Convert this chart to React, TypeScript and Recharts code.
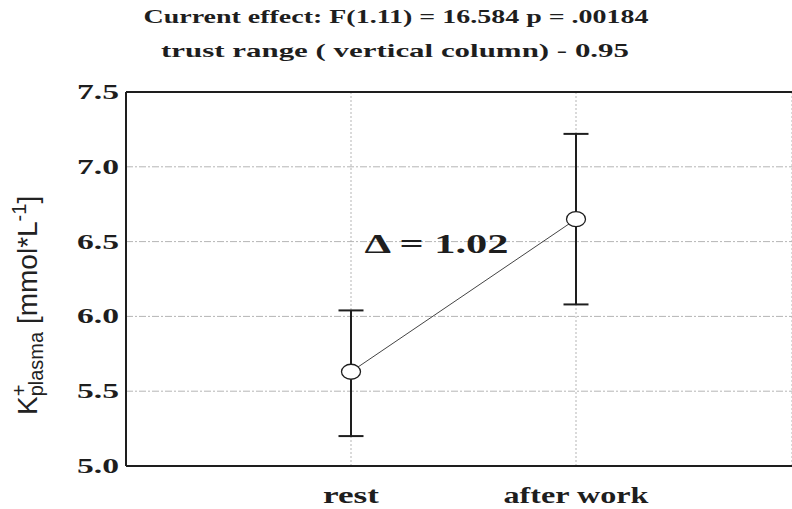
import { LineChart, Line, XAxis, YAxis, CartesianGrid, ErrorBar, ReferenceLine, ReferenceDot } from "recharts";

const categories = ["rest", "after work"];
const means = [5.63, 6.65];
const lowerErr = [0.43, 0.57];
const upperErr = [0.41, 0.57];
const yTicks = [5.0, 5.5, 6.0, 6.5, 7.0, 7.5];
const titleLines = ["Current effect: F(1.11) = 16.584  p = .00184", "trust  range ( vertical column) - 0.95"];
const deltaText = "\u0394 = 1.02";
const deltaPos = { x: 1.38, y: 6.49 };

const data = categories.map((name, i) => ({
  x: i + 1,
  name,
  mean: means[i],
  err: [lowerErr[i], upperErr[i]],
}));

const serif = "'Liberation Serif', 'Times New Roman', serif";
const ink = "#1e1e1e";

function YTick({ x, y, payload }: any) {
  return (
    <text x={x + 1} y={y + 7} textAnchor="end" fontFamily={serif} fontWeight="bold" fontSize={21}
      fill={ink} textLength={42} lengthAdjust="spacingAndGlyphs">
      {Number(payload.value).toFixed(1)}
    </text>
  );
}

function XTick({ x, y, payload }: any) {
  const label = categories[payload.value - 1] ?? "";
  const len = label === "rest" ? 56 : 145;
  return (
    <text x={x} y={y + 29} textAnchor="middle" fontFamily={serif} fontWeight="bold" fontSize={23}
      fill={ink} textLength={len} lengthAdjust="spacingAndGlyphs">
      {label}
    </text>
  );
}

function OpenDot({ cx, cy }: any) {
  return <ellipse cx={cx} cy={cy} rx={9.5} ry={7.5} fill="#fff" stroke={ink} strokeWidth={1.3} />;
}

function DeltaLabel({ viewBox }: any) {
  return (
    <text x={viewBox.x} y={viewBox.y + 10} textAnchor="middle" fontFamily={serif} fontWeight="bold"
      fontSize={27} fill={ink} textLength={144} lengthAdjust="spacingAndGlyphs">
      {deltaText}
    </text>
  );
}

export default function App() {
  return (
    <div style={{ position: "absolute", left: 0, top: 0, width: 792, height: 509, background: "#fff", overflow: "hidden" }}>
      <LineChart width={792} height={509} data={data} margin={{ top: 92, right: 0, bottom: 0, left: 0 }}>
        <CartesianGrid horizontal vertical={false} stroke="#b5b5b5" strokeDasharray="7 2 2 2" />
        <CartesianGrid horizontal={false} vertical stroke="#b5b5b5" strokeDasharray="2 2" />
        <XAxis dataKey="x" type="number" domain={[0, 2.96]} ticks={[1, 2]} height={43}
          axisLine={{ stroke: ink, strokeWidth: 2 }} tickLine={false} tick={<XTick />} />
        <YAxis type="number" domain={[5, 7.5]} ticks={yTicks} width={126} allowDataOverflow
          axisLine={{ stroke: ink, strokeWidth: 2 }} tickLine={false} tick={<YTick />} />
        <ReferenceLine y={7.5} stroke={ink} strokeWidth={2} />
        <ReferenceDot x={deltaPos.x} y={deltaPos.y} r={0} fill="none" stroke="none" label={<DeltaLabel />} />
        <Line dataKey="mean" stroke="#444" strokeWidth={1} dot={<OpenDot />} activeDot={false} isAnimationActive={false}>
          <ErrorBar dataKey="err" direction="y" width={12.5} stroke={ink} strokeWidth={2} />
        </Line>
      </LineChart>
      <svg width={792} height={509} style={{ position: "absolute", left: 0, top: 0, pointerEvents: "none" }}>
        <text x={396} y={23} textAnchor="middle" fontFamily={serif} fontWeight="bold" fontSize={19} fill={ink}
          textLength={505} lengthAdjust="spacingAndGlyphs">
          {titleLines[0]}
        </text>
        <text x={395} y={57} textAnchor="middle" fontFamily={serif} fontWeight="bold" fontSize={19} fill={ink}
          textLength={468} lengthAdjust="spacingAndGlyphs">
          {titleLines[1]}
        </text>
        <text transform="translate(37,415) rotate(-90)" fontFamily="'Liberation Sans', Arial, sans-serif" fontSize={28} fill="#222">
          K
          <tspan fontSize={20} dy={-11}>+</tspan>
          <tspan fontSize={20} dx={-11.7} dy={17}>plasma</tspan>
          <tspan fontSize={28} dy={-6}> [mmol*L</tspan>
          <tspan fontSize={20} dy={-11}>-1</tspan>
          <tspan fontSize={28} dy={11}>]</tspan>
        </text>
      </svg>
    </div>
  );
}
